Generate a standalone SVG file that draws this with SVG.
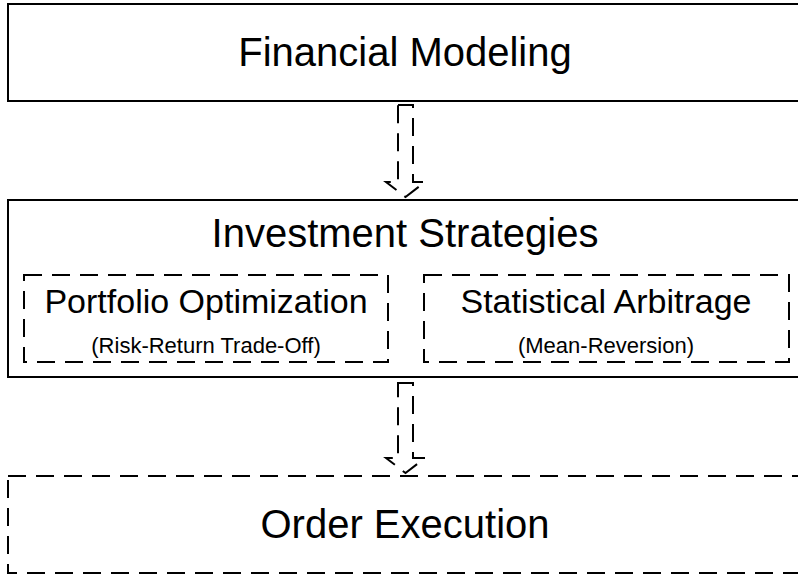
<svg xmlns="http://www.w3.org/2000/svg" width="798" height="576" viewBox="0 0 798 576">
<style>
.box{fill:#fff;stroke:#000;stroke-width:2}
.dash{fill:none;stroke:#000;stroke-width:2;stroke-dasharray:18 10}
.t{font-family:"Liberation Sans",Arial,sans-serif;fill:#000;text-anchor:middle}
.big{font-size:40px}
.mid{font-size:34px}
.small{font-size:22px}
</style>
<rect width="798" height="576" fill="#fff"/>
<g id="financial-modeling">
<rect class="box" x="8" y="4" width="796" height="97"/>
<text class="t big" x="405" y="66">Financial Modeling</text>
</g>
<g id="investment-strategies">
<rect class="box" x="8" y="200" width="796" height="177"/>
<text class="t big" x="405" y="247">Investment Strategies</text>
</g>
<g id="portfolio-optimization">
<rect class="dash" x="24" y="275" width="364" height="87"/>
<text class="t mid" x="206" y="313">Portfolio Optimization</text>
<text class="t small" x="206" y="353">(Risk-Return Trade-Off)</text>
</g>
<g id="statistical-arbitrage">
<rect class="dash" x="424" y="275" width="365" height="87"/>
<text class="t mid" x="606" y="313">Statistical Arbitrage</text>
<text class="t small" x="606" y="353">(Mean-Reversion)</text>
</g>
<g id="order-execution">
<rect class="dash" x="8" y="476" width="796" height="97"/>
<text class="t big" x="405" y="538">Order Execution</text>
</g>
<g id="connectors">
<path class="dash" d="M398,105 L413,105 L413,182 L425,182 L405.5,197 L386,182 L398,182 Z"/>
<path class="dash" d="M398,383 L413,383 L413,458 L425,458 L405.5,473 L386,458 L398,458 Z"/>
</g>
</svg>
